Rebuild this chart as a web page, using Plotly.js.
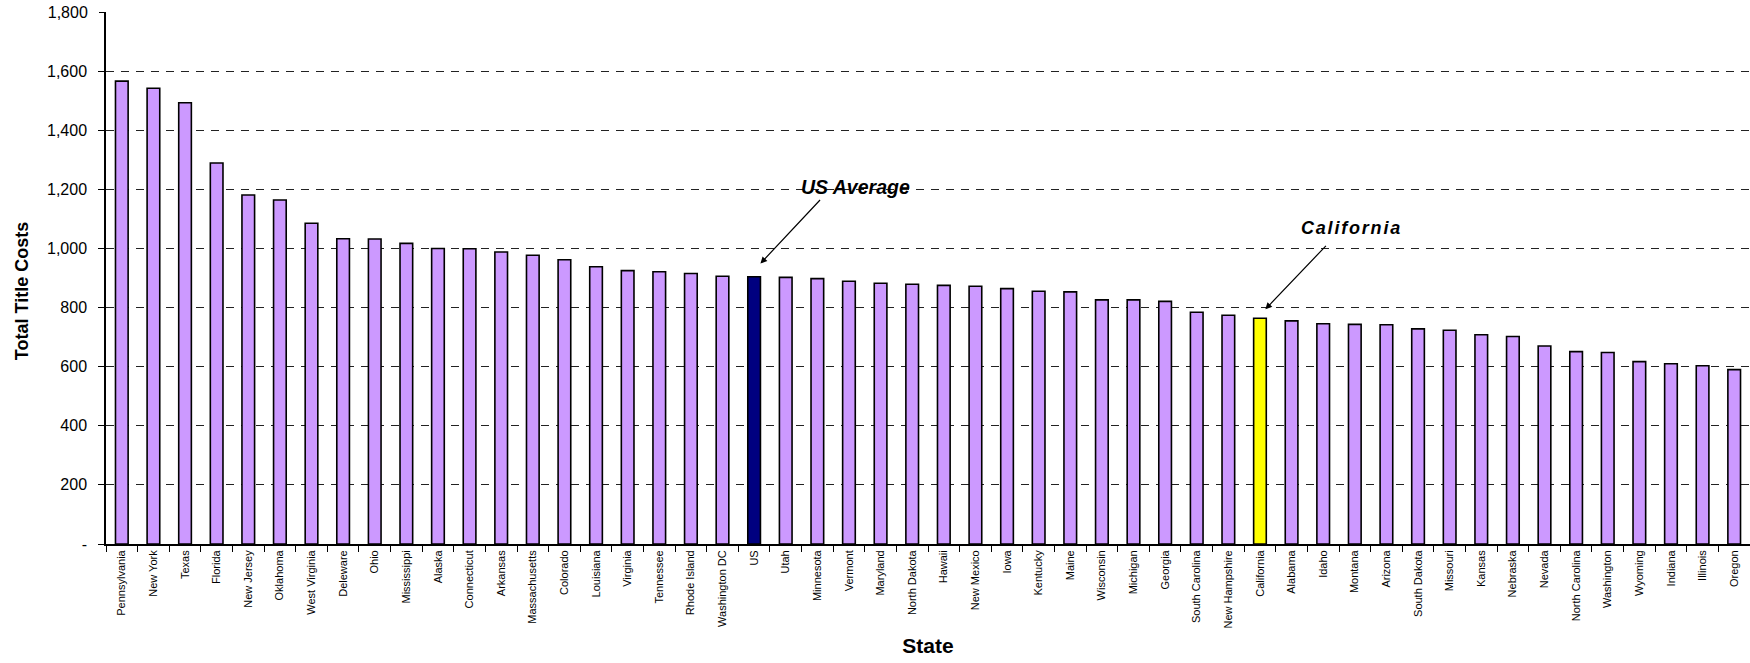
<!DOCTYPE html>
<html>
<head>
<meta charset="utf-8">
<script src="https://cdn.plot.ly/plotly-3.0.1.min.js"></script>
<style>
html,body{margin:0;padding:0;background:#fff;}
#chart{width:1750px;height:663px;}
</style>
</head>
<body>
<div id="chart"></div>
<script>
var states = ["Pennsylvania","New York","Texas","Florida","New Jersey","Oklahoma","West Virginia","Deleware","Ohio","Mississippi","Alaska","Connecticut","Arkansas","Massachusetts","Colorado","Louisiana","Virginia","Tennessee","Rhode Island","Washington DC","US","Utah","Minnesota","Vermont","Maryland","North Dakota","Hawaii","New Mexico","Iowa","Kentucky","Maine","Wisconsin","Michigan","Georgia","South Carolina","New Hampshire","California","Alabama","Idaho","Montana","Arizona","South Dakota","Missouri","Kansas","Nebraska","Nevada","North Carolina","Washington","Wyoming","Indiana","Illinois","Oregon"];
var totalTitleCosts = [1566,1542,1493,1289,1181,1164,1085,1033,1032,1017,1000,999,988,977,962,938,925,921,915,906,904,902,898,889,882,879,875,872,864,855,853,826,826,821,784,774,764,755,745,743,742,728,723,708,702,670,651,648,617,610,603,590];
var yTickVals = [0,200,400,600,800,1000,1200,1400,1600];
var yTickText = ["-","200","400","600","800","1,000","1,200","1,400","1,600"];
var yTopVal = [1800];
var yTopText = ["1,800"];

var baseColor = "#CC99FF";
var colors = states.map(function(s){
  if (s === "US") return "#000080";
  if (s === "California") return "#FFFF00";
  return baseColor;
});

var FONT = "Arial, 'Liberation Sans', sans-serif";

var trace = {
  type: "bar",
  x: states,
  y: totalTitleCosts,
  marker: {color: colors, line: {color: "#000000", width: 1.6}},
  hoverinfo: "x+y"
};

var iUS = states.indexOf("US");
var iCA = states.indexOf("California");

var layout = {
  width: 1750, height: 663,
  margin: {l: 106, r: 0, t: 12, b: 119},
  paper_bgcolor: "#ffffff",
  plot_bgcolor: "#ffffff",
  showlegend: false,
  bargap: 0.6,
  font: {family: FONT, color: "#000"},
  xaxis: {
    type: "category",
    range: [-0.5, states.length - 0.5],
    tickangle: -90,
    tickfont: {size: 11, family: FONT, color: "#000"},
    ticks: "outside", tickson: "boundaries", ticklen: 6, tickcolor: "#000", tickwidth: 1,
    showline: true, linecolor: "#000", linewidth: 1.8,
    showgrid: false,
    title: {text: "State", font: {size: 21, family: FONT, weight: "bold", color: "#000"}, standoff: 11},
    automargin: false
  },
  yaxis: {
    range: [0, 1800],
    tickvals: yTickVals, ticktext: yTickText,
    tickfont: {size: 16, family: FONT, color: "#000"},
    ticks: "outside", ticklen: 6, tickcolor: "#000", tickwidth: 1,
    ticklabelstandoff: 8,
    showline: true, linecolor: "#000", linewidth: 1.5,
    showgrid: true, gridcolor: "#222222", gridwidth: 1.1, griddash: "8px,7px",
    zeroline: false,
    title: {text: "Total Title Costs", font: {size: 18, family: FONT, weight: "bold", color: "#000"}, standoff: 14},
    automargin: false
  },
  yaxis2: {
    overlaying: "y",
    side: "left",
    range: [0, 1800],
    tickvals: yTopVal, ticktext: yTopText,
    tickfont: {size: 16, family: FONT, color: "#000"},
    ticks: "outside", ticklen: 6, tickcolor: "#000", tickwidth: 1,
    ticklabelstandoff: 8,
    showline: false,
    showgrid: true, gridcolor: "#d4d4d4", gridwidth: 1, griddash: "8px,7px",
    zeroline: false,
    automargin: false
  },
  annotations: [
    {x: iUS + 0.2, y: totalTitleCosts[iUS] + 45, xref: "x", yref: "y", text: "",
     showarrow: true, arrowhead: 2, arrowsize: 1.1, arrowwidth: 1.2, arrowcolor: "#000",
     ax: 61, ay: -65, standoff: 0, startstandoff: 0},
    {x: iUS + 0.2, y: totalTitleCosts[iUS] + 45, xref: "x", yref: "y", text: "<b><i>US Average</i></b>",
     showarrow: true, arrowcolor: "rgba(0,0,0,0)", arrowwidth: 0.1, ax: 95, ay: -77,
     font: {size: 19.5, family: FONT, color: "#000"}},
    {x: iCA + 0.17, y: totalTitleCosts[iCA] + 30, xref: "x", yref: "y", text: "",
     showarrow: true, arrowhead: 2, arrowsize: 1.1, arrowwidth: 1.2, arrowcolor: "#000",
     ax: 62, ay: -65, standoff: 0, startstandoff: 0},
    {x: iCA + 0.17, y: totalTitleCosts[iCA] + 30, xref: "x", yref: "y", text: "<b><i>California</i></b>",
     showarrow: true, arrowcolor: "rgba(0,0,0,0)", arrowwidth: 0.1, ax: 86, ay: -81,
     font: {size: 18, family: FONT, color: "#000"}}
  ]
};

var traces = [trace, {type: "scatter", x: [states[0]], y: [0], yaxis: "y2", mode: "markers", marker: {opacity: 0}, hoverinfo: "skip", showlegend: false}];

Plotly.newPlot("chart", traces, layout, {displayModeBar: false}).then(function(gd){
  var anns = document.querySelectorAll(".annotation-text");
  anns.forEach(function(t){
    if (t.textContent === "California") t.style.letterSpacing = "1.8px";
  });
  var yt = document.querySelector(".g-ytitle");
  if (yt) yt.setAttribute("transform", "translate(0,13)");
});
</script>
</body>
</html>
